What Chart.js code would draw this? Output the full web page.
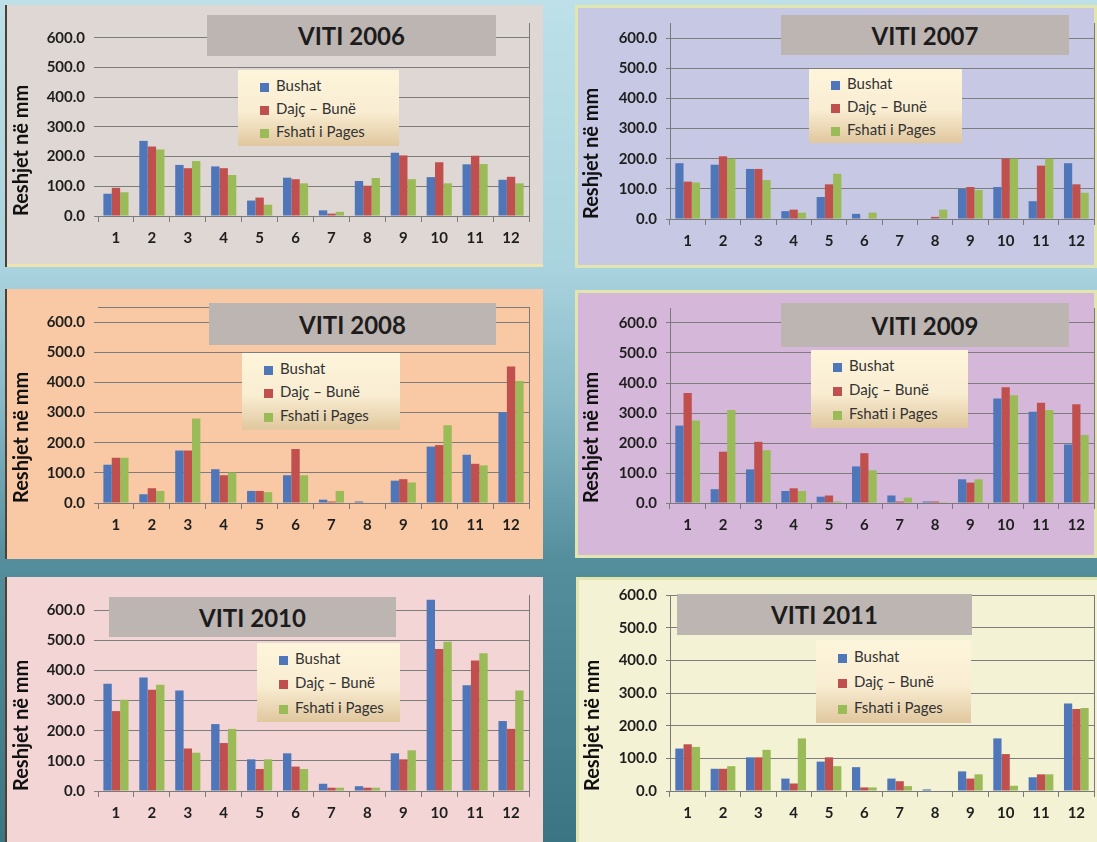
<!DOCTYPE html>
<html>
<head>
<meta charset="utf-8">
<script src="https://cdn.jsdelivr.net/npm/chart.js@4.4.1/dist/chart.umd.min.js"></script>
<style>
  html, body { margin: 0; padding: 0; }
  body {
    width: 1097px; height: 842px; overflow: hidden; position: relative;
    background: linear-gradient(to bottom, #bde0e9 0%, #a9d3de 32%, #86b8c6 48%, #558f9e 66%, #3b7483 100%);
    font-family: Lato, sans-serif;
  }
  .paneli { position: absolute; }
  .paneli canvas { position: absolute; left: 0; top: 0; }
  .titulli {
    position: absolute; background: #bdb5b2; color: #1c1c1c;
    font: bold 24px Lato, sans-serif;
    display: flex; align-items: center; justify-content: center;
  }
  .legjenda {
    position: absolute; box-sizing: border-box;
    background: linear-gradient(to bottom, #fdf5db 0%, #f9edd2 55%, #e0c79e 100%);
    font: 15px Lato, sans-serif; color: #333;
    display: flex; flex-direction: column; justify-content: space-around;
    padding: 3px 0 3px 22px;
  }
  .katror { display: inline-block; width: 9px; height: 9px; margin-right: 7px; vertical-align: -1px; }
</style>
</head>
<body>
<script>
// muajt dhe stacionet
var muajt = ['1', '2', '3', '4', '5', '6', '7', '8', '9', '10', '11', '12'];
var stacionet = ['Bushat', 'Dajç – Bunë', 'Fshati i Pages'];
var ngjyratSerive = ['#4f76b9', '#c0504d', '#9bbb59'];
var vleratBoshtitY = [0, 100, 200, 300, 400, 500, 600];

// reshjet mujore ne mm
var bushat2006 = [75, 253, 172, 167, 52, 129, 19, 118, 213, 131, 174, 122];
var dajc2006   = [95, 234, 161, 161, 62, 124, 8, 102, 204, 181, 203, 132];
var fshati2006 = [80, 224, 185, 138, 38, 110, 14, 128, 124, 110, 175, 110];

var bushat2007 = [185, 180, 166, 26, 73, 17, 0, 0, 100, 106, 59, 185];
var dajc2007   = [124, 208, 166, 31, 115, 0, 0, 7, 106, 200, 177, 115];
var fshati2007 = [121, 200, 129, 21, 150, 21, 0, 31, 96, 200, 200, 87];

var bushat2008 = [127, 29, 174, 112, 40, 92, 11, 5, 74, 187, 160, 301];
var dajc2008   = [150, 49, 174, 92, 40, 179, 5, 0, 79, 192, 130, 453];
var fshati2008 = [150, 40, 280, 101, 36, 92, 40, 0, 68, 258, 125, 405];

var bushat2009 = [258, 46, 112, 40, 21, 122, 25, 5, 79, 348, 304, 195];
var dajc2009   = [367, 171, 204, 49, 25, 166, 5, 5, 68, 386, 334, 329];
var fshati2009 = [275, 310, 176, 40, 5, 109, 18, 3, 79, 359, 310, 227];

var bushat2010 = [356, 376, 333, 222, 105, 125, 24, 16, 125, 634, 351, 232];
var dajc2010   = [265, 336, 141, 159, 73, 81, 11, 11, 105, 471, 433, 206];
var fshati2010 = [303, 352, 127, 206, 105, 73, 11, 11, 135, 495, 457, 333];

var bushat2011 = [130, 68, 103, 38, 90, 73, 38, 5, 60, 161, 42, 268];
var dajc2011   = [143, 68, 103, 23, 103, 11, 30, 0, 38, 113, 51, 251];
var fshati2011 = [135, 76, 126, 161, 76, 11, 15, 0, 51, 16, 51, 254];

// vendosja e paneleve (koordinata absolute ne faqe)
var panelet = [
  { viti: '2006', seri: [bushat2006, dajc2006, fshati2006], max: 650, majtas: true,
    panel: [5, 5, 543, 267], grafik: [98, 14, 529, 216], ngjyra: '#dfd7d3',
    hije: 'inset 2px 0 0 #4d4232, inset 0 -3px 0 #efe3b0',
    titull: [207, 15, 496, 56], legjende: [238, 70, 399, 146] },
  { viti: '2007', seri: [bushat2007, dajc2007, fshati2007], max: 650, majtas: false,
    panel: [575, 5, 1097, 268], grafik: [670, 14, 1094, 219], ngjyra: '#c6c8e4',
    hije: 'inset 0 0 0 3px #e2e6ae',
    titull: [781, 15, 1069, 55], legjende: [809, 69, 962, 143] },
  { viti: '2008', seri: [bushat2008, dajc2008, fshati2008], max: 650, majtas: true, siper: true,
    panel: [5, 289, 543, 559], grafik: [98, 304, 529, 503], ngjyra: '#f8c9a4',
    hije: 'inset 2px 0 0 #4d4232',
    titull: [209, 303, 496, 345], legjende: [242, 353, 400, 430] },
  { viti: '2009', seri: [bushat2009, dajc2009, fshati2009], max: 650, majtas: false,
    panel: [575, 290, 1097, 558], grafik: [670, 304, 1094, 503], ngjyra: '#d5b8d9',
    hije: 'inset 0 0 0 3px #e2e6ae',
    titull: [781, 303, 1069, 347], legjende: [811, 350, 968, 428] },
  { viti: '2010', seri: [bushat2010, dajc2010, fshati2010], max: 650, majtas: true,
    panel: [5, 577, 543, 842], grafik: [98, 591, 529, 791], ngjyra: '#f3d5d5',
    hije: 'inset 2px 0 0 #4d4232',
    titull: [109, 597, 396, 637], legjende: [257, 643, 400, 722] },
  { viti: '2011', seri: [bushat2011, dajc2011, fshati2011], max: 600, majtas: false,
    panel: [576, 577, 1097, 842], grafik: [670, 590, 1094, 791], ngjyra: '#f3f2d4',
    hije: 'inset 3px 0 0 #e2e6ae, inset 0 3px 0 #e2e6ae',
    titull: [677, 594, 972, 635], legjende: [816, 640, 971, 723] }
];

var kornizaPlugin = {
  id: 'korniza',
  afterDraw: function(chart, args, opts) {
    var a = chart.chartArea;
    var ctx = chart.ctx;
    ctx.save();
    ctx.strokeStyle = '#7a7a7a';
    ctx.lineWidth = 1;
    ctx.beginPath();
    var xr = Math.round(a.right) + 0.5;
    ctx.moveTo(xr, a.top);
    ctx.lineTo(xr, a.bottom);
    if (opts.siper) {
      ctx.moveTo(a.left, Math.round(a.top) + 0.5);
      ctx.lineTo(a.right, Math.round(a.top) + 0.5);
    }
    ctx.stroke();
    ctx.restore();
  }
};

function vendos(el, x0, y0, x1, y1) {
  el.style.left = x0 + 'px';
  el.style.top = y0 + 'px';
  el.style.width = (x1 - x0) + 'px';
  el.style.height = (y1 - y0) + 'px';
}

function krijoPanelin(p) {
  var px = p.panel[0], py = p.panel[1];
  var w = p.panel[2] - px, h = p.panel[3] - py;

  var div = document.createElement('div');
  div.className = 'paneli';
  vendos(div, px, py, p.panel[2], p.panel[3]);
  div.style.background = p.ngjyra;
  div.style.boxShadow = p.hije;
  document.body.appendChild(div);

  var canvas = document.createElement('canvas');
  canvas.width = w;
  canvas.height = h;
  div.appendChild(canvas);

  var titulli = document.createElement('div');
  titulli.className = 'titulli';
  titulli.textContent = 'VITI ' + p.viti;
  vendos(titulli, p.titull[0] - px, p.titull[1] - py, p.titull[2] - px, p.titull[3] - py);
  div.appendChild(titulli);

  var leg = document.createElement('div');
  leg.className = 'legjenda';
  vendos(leg, p.legjende[0] - px, p.legjende[1] - py, p.legjende[2] - px, p.legjende[3] - py);
  stacionet.forEach(function(emri, i) {
    var rresht = document.createElement('div');
    var k = document.createElement('span');
    k.className = 'katror';
    k.style.background = ngjyratSerive[i];
    rresht.appendChild(k);
    rresht.appendChild(document.createTextNode(emri));
    leg.appendChild(rresht);
  });
  div.appendChild(leg);

  var gjeresiaY = p.grafik[0] - px;
  var lartesiaX = p.panel[3] - p.grafik[3];

  var fontiAkseve = { family: 'Lato', weight: 'bold', size: 15 };

  new Chart(canvas, {
    type: 'bar',
    data: {
      labels: muajt,
      datasets: p.seri.map(function(vlerat, i) {
        return {
          label: stacionet[i],
          data: vlerat,
          backgroundColor: ngjyratSerive[i],
          borderWidth: 0,
          clip: false
        };
      })
    },
    plugins: [kornizaPlugin],
    options: {
      responsive: false,
      animation: false,
      layout: { padding: { top: p.grafik[1] - py, right: p.panel[2] - p.grafik[2], left: 0, bottom: 0 } },
      datasets: { bar: { categoryPercentage: 0.7, barPercentage: 1.0 } },
      plugins: {
        legend: { display: false },
        tooltip: { enabled: false },
        korniza: { siper: !!p.siper }
      },
      scales: {
        x: {
          grid: { offset: true, drawOnChartArea: false, tickLength: 6, color: '#7a7a7a' },
          border: { color: '#7a7a7a' },
          ticks: { font: fontiAkseve, color: '#1e1e1e', padding: 7 },
          afterFit: function(s) { s.height = lartesiaX; }
        },
        y: {
          min: 0,
          max: p.max,
          ticks: {
            font: fontiAkseve,
            color: '#1e1e1e',
            padding: 9,
            callback: function(v) { return v.toFixed(1); }
          },
          afterBuildTicks: function(s) {
            s.ticks = vleratBoshtitY.map(function(v) { return { value: v }; });
          },
          grid: { color: '#7d7d7d', tickLength: 4 },
          border: { display: !p.majtas, color: '#7a7a7a' },
          title: {
            display: true,
            text: 'Reshjet në mm',
            align: 'start',
            color: '#111',
            font: { family: 'Lato', weight: 'bold', size: 20 },
            padding: { top: 5, bottom: 0 }
          },
          afterFit: function(s) { s.width = gjeresiaY; }
        }
      }
    }
  });
}

panelet.forEach(krijoPanelin);
</script>
</body>
</html>
